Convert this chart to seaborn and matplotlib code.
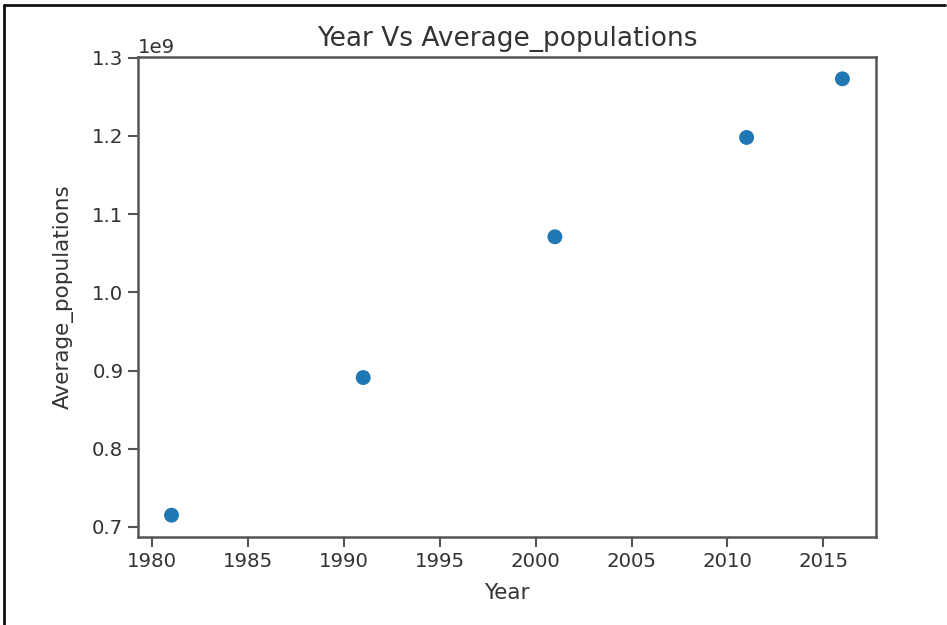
import matplotlib
matplotlib.use('Agg')
import matplotlib.pyplot as plt
import seaborn as sns
import pandas as pd
from matplotlib.lines import Line2D

# data
years = [1981, 1991, 2001, 2011, 2016]
avg_pop = [0.715e9, 0.891e9, 1.071e9, 1.198e9, 1.273e9]

df = pd.DataFrame({'Year': years, 'Average_populations': avg_pop})

sns.set_style('white')
plt.rcParams['font.family'] = ['DejaVu Sans']

fig = plt.figure(figsize=(9.47, 6.25), dpi=100)
ax = fig.add_axes([0.1457, 0.1408, 0.925 - 0.1457, 0.9088 - 0.1408])

sns.scatterplot(data=df, x='Year', y='Average_populations', ax=ax,
                s=115, color='#1f77b4', edgecolor='none', linewidth=0)

ax.set_title('Year Vs Average_populations', fontsize=19, color='#333333', pad=8)
ax.set_xlabel('Year', fontsize=15.5, color='#333333', labelpad=9)
ax.set_ylabel('Average_populations', fontsize=15.5, color='#333333', labelpad=13)
ax.set_xticks([1980, 1985, 1990, 1995, 2000, 2005, 2010, 2015])
ax.set_yticks([0.7e9, 0.8e9, 0.9e9, 1.0e9, 1.1e9, 1.2e9, 1.3e9])
ax.tick_params(axis='both', labelsize=14.2, labelcolor='#333333',
               length=7, width=1.5, color='#555555', left=True, bottom=True)
ax.yaxis.get_offset_text().set_fontsize(14.2)
ax.yaxis.get_offset_text().set_color('#333333')
for sp in ax.spines.values():
    sp.set_color('#555555')
    sp.set_linewidth(1.8)

# screenshot frame lines (top and left)
fig.add_artist(Line2D([0.004, 0.998], [0.992, 0.992], transform=fig.transFigure,
                      color='#111111', lw=2))
fig.add_artist(Line2D([0.0045, 0.0045], [0.0, 0.992], transform=fig.transFigure,
                      color='#111111', lw=2))

fig.savefig('out.png', dpi=100)
